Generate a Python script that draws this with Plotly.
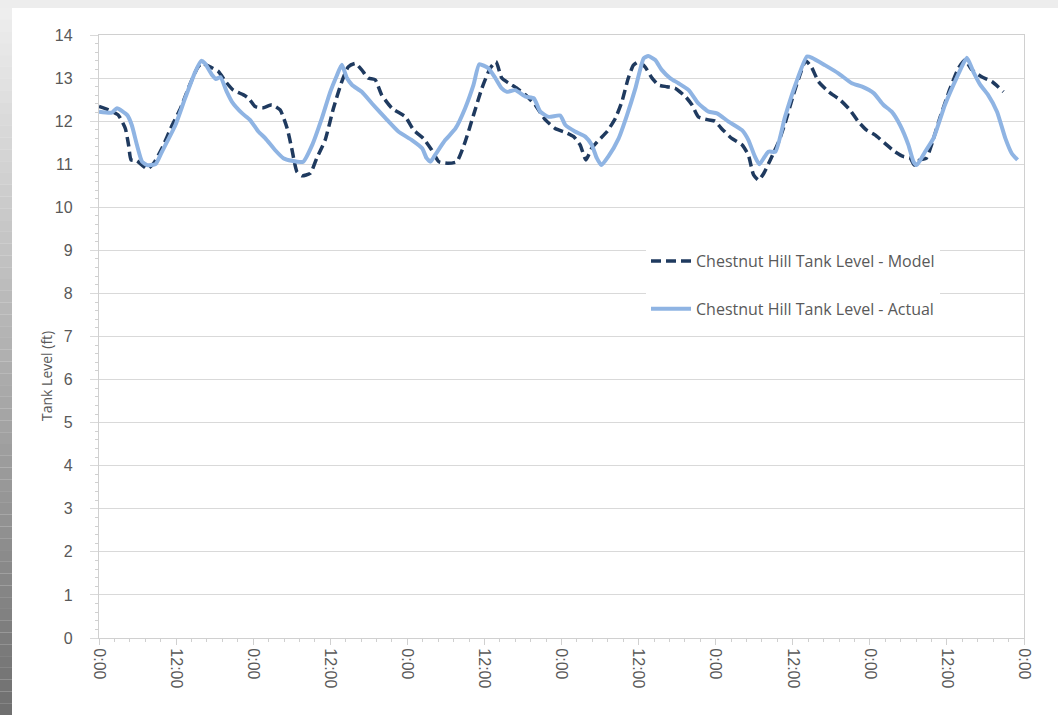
import plotly.graph_objects as go

# Chestnut Hill tank level over six days (hours from start of record)
model_hours = [0, 1.5, 3.0, 4.1, 4.6, 5.0, 5.9, 6.7, 7.5, 8.5, 9.8, 11.4, 12.7, 13.9, 15.3, 16.0,
               17.3, 18.6, 19.7, 20.9, 22.5, 23.3, 24.3, 25.6, 26.9, 28.2, 29.3, 30.0, 30.8, 31.6,
               32.9, 33.9, 35.2, 36.5, 37.8, 38.8, 39.9, 40.9, 41.9, 43.0, 44.0, 45.6, 47.7, 49.0,
               50.5, 51.8, 52.9, 54.4, 55.7, 57.0, 58.3, 59.6, 60.9, 61.8, 62.7, 63.8, 65.1, 66.4,
               67.9, 69.5, 71.0, 72.6, 73.9, 74.9, 75.8, 76.7, 77.8, 79.1, 80.4, 81.4, 82.4, 83.2,
               84.0, 85.0, 86.1, 87.1, 88.4, 89.7, 91.3, 92.3, 93.3, 94.9, 95.9, 96.9, 98.5, 100.1,
               101.1, 101.9, 102.7, 103.5, 104.5, 105.8, 106.8, 108.1, 109.1, 110.0, 110.9, 112.0,
               113.6, 115.4, 116.9, 118.2, 119.5, 120.8, 122.3, 123.9, 125.2, 126.3, 126.9, 127.8,
               128.8, 129.6, 130.9, 132.5, 133.8, 134.8, 135.9, 137.4, 139.0, 140.8]
model_level = [12.34, 12.26, 12.14, 11.83, 11.45, 11.10, 11.08, 10.98, 10.89, 11.02, 11.37, 11.91,
               12.30, 12.76, 13.23, 13.34, 13.26, 13.15, 12.92, 12.72, 12.61, 12.53, 12.34, 12.31,
               12.38, 12.26, 11.83, 11.37, 10.83, 10.73, 10.79, 11.14, 11.56, 12.30, 12.92, 13.26,
               13.34, 13.19, 13.00, 12.96, 12.61, 12.30, 12.10, 11.79, 11.60, 11.33, 11.06, 11.02,
               11.06, 11.52, 12.14, 12.76, 13.23, 13.38, 13.00, 12.88, 12.76, 12.61, 12.38, 12.03,
               11.83, 11.74, 11.64, 11.45, 11.10, 11.37, 11.56, 11.76, 12.07, 12.45, 13.00, 13.30,
               13.38, 13.26, 13.00, 12.84, 12.80, 12.76, 12.57, 12.38, 12.10, 12.03, 12.00, 11.83,
               11.60, 11.45, 11.21, 10.75, 10.63, 10.79, 11.10, 11.52, 11.95, 12.61, 13.07, 13.40,
               13.26, 12.92, 12.68, 12.49, 12.26, 11.99, 11.79, 11.68, 11.49, 11.29, 11.18, 11.14,
               10.98, 11.10, 11.14, 11.45, 12.07, 12.76, 13.23, 13.42, 13.19, 13.03, 12.92, 12.68]

actual_hours = [0, 2.0, 2.8, 4.4, 5.1, 5.9, 6.7, 7.5, 8.8, 9.8, 11.9, 13.4, 15.0, 15.9, 16.5, 17.6,
                18.2, 18.9, 19.9, 20.7, 22.3, 23.5, 24.8, 25.9, 27.4, 28.7, 30.0, 31.8, 33.2, 34.7,
                36.0, 37.0, 37.8, 38.6, 39.4, 40.9, 42.5, 44.6, 46.6, 48.7, 50.3, 51.0, 51.6, 52.3,
                53.9, 55.5, 57.0, 58.3, 59.2, 60.6, 61.7, 62.7, 63.5, 64.8, 66.4, 67.7, 68.7, 70.0,
                71.8, 72.6, 74.1, 75.7, 76.7, 77.5, 78.2, 79.3, 80.9, 82.2, 83.5, 84.8, 85.5, 86.6,
                87.6, 88.9, 90.2, 91.8, 93.3, 94.9, 96.2, 98.0, 100.1, 101.1, 102.1, 102.8, 104.2,
                105.3, 106.8, 108.4, 110.2, 111.0, 113.0, 115.1, 117.2, 118.8, 120.6, 122.1, 123.4,
                124.7, 126.0, 126.8, 127.3, 128.6, 129.9, 131.7, 133.5, 135.1, 136.1, 137.2, 138.4,
                139.8, 141.1, 142.1, 143.0]
actual_level = [12.22, 12.20, 12.30, 12.14, 11.91, 11.45, 11.06, 10.98, 11.00, 11.29, 11.91, 12.53,
                13.15, 13.40, 13.34, 13.07, 12.98, 13.02, 12.68, 12.45, 12.18, 12.03, 11.76, 11.60,
                11.33, 11.14, 11.08, 11.06, 11.45, 12.07, 12.68, 13.05, 13.31, 13.00, 12.84, 12.68,
                12.41, 12.07, 11.76, 11.56, 11.37, 11.14, 11.06, 11.21, 11.56, 11.83, 12.30, 12.84,
                13.32, 13.23, 13.00, 12.76, 12.68, 12.72, 12.57, 12.53, 12.22, 12.10, 12.13, 11.91,
                11.76, 11.64, 11.45, 11.14, 10.98, 11.18, 11.60, 12.14, 12.76, 13.46, 13.51, 13.42,
                13.19, 13.00, 12.88, 12.72, 12.41, 12.22, 12.18, 11.99, 11.79, 11.56, 11.18, 11.00,
                11.29, 11.29, 12.10, 12.84, 13.50, 13.47, 13.30, 13.11, 12.88, 12.80, 12.65, 12.38,
                12.22, 11.91, 11.45, 11.06, 10.98, 11.29, 11.60, 12.38, 13.00, 13.47, 13.15, 12.84,
                12.61, 12.22, 11.60, 11.25, 11.10]

x_tick_hours = [0, 12, 24, 36, 48, 60, 72, 84, 96, 108, 120, 132, 144]
x_tick_text = ["0:00", "12:00", "0:00", "12:00", "0:00", "12:00", "0:00",
               "12:00", "0:00", "12:00", "0:00", "12:00", "0:00"]

fig = go.Figure()
fig.add_trace(go.Scatter(
    x=model_hours, y=model_level, mode="lines",
    name="Chestnut Hill Tank Level - Model", legendgroup="model",
    line=dict(color="#1f3a5f", width=3.5, dash="10px,5px", shape="spline", smoothing=0.5),
))
fig.add_trace(go.Scatter(
    x=actual_hours, y=actual_level, mode="lines",
    name="Chestnut Hill Tank Level - Actual", legendgroup="actual",
    line=dict(color="#8fb4e3", width=4, shape="spline", smoothing=0.5),
))

# page backdrop: grey band at the top and a shaded strip down the left edge
shapes = [dict(type="rect", xref="paper", yref="paper", x0=-0.2, x1=1.2, y0=-0.2, y1=1.2,
               fillcolor="#ededed", line=dict(width=0), layer="below")]
W, H = 1058, 715
ml, mr, mt, mb = 99, 34, 35, 77
pw, ph = W - ml - mr, H - mt - mb


def px_x(v):
    return (v - ml) / pw


def px_y(v):
    return (H - mb - v) / ph


n_bands = 60
for i in range(n_bands):
    t = i / (n_bands - 1)
    g = int(238 - t * (238 - 112))
    shapes.append(dict(type="rect", xref="paper", yref="paper",
                       x0=px_x(0), x1=px_x(12),
                       y0=px_y(8 + (i + 1) * (H - 8) / n_bands), y1=px_y(8 + i * (H - 8) / n_bands),
                       fillcolor=f"rgb({g},{g},{g})", line=dict(width=0), layer="below"))
shapes.append(dict(type="rect", xref="paper", yref="paper",
                   x0=px_x(12), x1=px_x(W + 5), y0=px_y(H + 5), y1=px_y(8),
                   fillcolor="white", line=dict(width=0), layer="below"))

fig.update_layout(
    width=W, height=H,
    margin=dict(l=ml, r=mr, t=mt, b=mb),
    paper_bgcolor="white", plot_bgcolor="white",
    shapes=shapes,
    showlegend=True,
    legend=dict(
        x=px_x(646), y=px_y(244), xanchor="left", yanchor="top",
        bgcolor="white", borderwidth=0,
        font=dict(family="Open Sans", size=16, color="#595959"),
        tracegroupgap=24, itemwidth=40,
    ),
    annotations=[dict(
        text="Tank Level (ft)", textangle=-90, xref="paper", yref="paper",
        x=px_x(46), y=px_y(376), xanchor="center", yanchor="middle", showarrow=False,
        font=dict(family="Open Sans", size=14, color="#595959"),
    )],
)
fig.update_xaxes(
    range=[0, 144], tickmode="array", tickvals=x_tick_hours, ticktext=x_tick_text,
    tickangle=90, tickfont=dict(family="Liberation Sans", size=16, color="#595959"),
    showgrid=False, zeroline=False,
    showline=True, linecolor="#d0d0d0", linewidth=1.3, mirror=True,
    ticks="outside", ticklen=6, tickcolor="#d0d0d0",
    minor=dict(dtick=2.4, ticks="outside", ticklen=3, tickcolor="#d0d0d0"),
)
fig.update_yaxes(
    range=[0, 14], dtick=1, tickfont=dict(family="Liberation Sans", size=16, color="#595959"),
    showgrid=True, gridcolor="#d9d9d9", gridwidth=1.3, zeroline=False,
    showline=True, linecolor="#d0d0d0", linewidth=1.3, mirror=True,
    ticks="outside", ticklen=8, tickcolor="#d9d9d9", ticklabelstandoff=14,
    minor=dict(dtick=0.2, ticks="outside", ticklen=3, tickcolor="#d0d0d0"),
)

fig.write_html("out.html")
